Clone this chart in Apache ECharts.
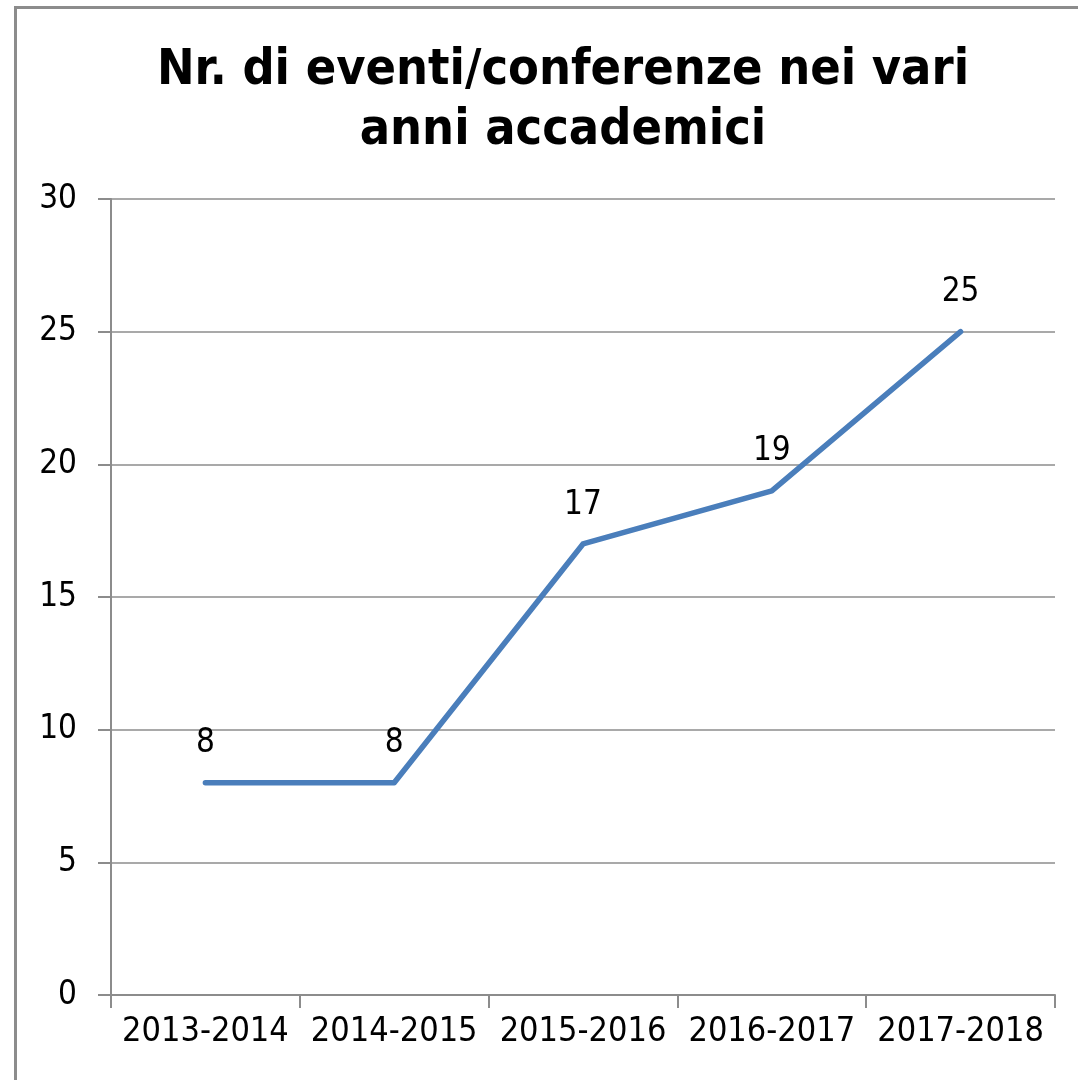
<!DOCTYPE html>
<html>
<head>
<meta charset="utf-8">
<script src="https://cdn.jsdelivr.net/npm/echarts@6/dist/echarts.min.js"></script>
<style>
  html, body { margin: 0; padding: 0; background: #fff; }
  #frame {
    position: absolute; left: 14px; top: 6px;
    width: 1070px; height: 1080px;
    border-left: 3px solid #8c8c8c; border-top: 3px solid #8c8c8c;
  }
  #mChart { position: absolute; left: 0; top: 0; width: 1078px; height: 1080px; }
</style>
</head>
<body>
<div id="frame"></div>
<div id="mChart"></div>
<script>
  // dati del grafico
  var anni = ['2013-2014', '2014-2015', '2015-2016', '2016-2017', '2017-2018'];
  var eventi = [8, 8, 17, 19, 25];
  var titolo = 'Nr. di eventi/conferenze nei vari\nanni accademici';

  var font = 'DejaVu Sans Condensed, Tahoma, sans-serif';
  var myChart = echarts.init(document.getElementById('mChart'));
  myChart.setOption({
    animation: false,
    title: {
      text: titolo,
      left: 558,
      textAlign: 'center',
      top: 36,
      textStyle: {
        fontFamily: font,
        fontWeight: 'bold',
        fontSize: 50,
        lineHeight: 60,
        color: '#000'
      }
    },
    grid: { left: 111, right: 23, top: 199, bottom: 85 },
    xAxis: {
      type: 'category',
      data: anni,
      boundaryGap: true,
      axisLine: { lineStyle: { color: '#8c8c8c', width: 2 } },
      axisTick: { show: true, length: 13, lineStyle: { color: '#8c8c8c', width: 2 } },
      axisLabel: { fontFamily: font, fontSize: 34, color: '#000', margin: 20, interval: 0 }
    },
    yAxis: {
      type: 'value',
      min: 0, max: 30, interval: 5,
      axisLine: { show: true, lineStyle: { color: '#8c8c8c', width: 2 } },
      axisTick: { show: true, length: 13, lineStyle: { color: '#8c8c8c', width: 2 } },
      splitLine: { lineStyle: { color: '#8c8c8c', width: 1.5 } },
      axisLabel: { fontFamily: font, fontSize: 33, color: '#000', margin: 34 }
    },
    series: [{
      type: 'line',
      data: eventi,
      showSymbol: true,
      symbol: 'circle',
      symbolSize: 1,
      itemStyle: { color: '#4a7ebb' },
      lineStyle: { color: '#4a7ebb', width: 5.5, cap: 'round', join: 'round' },
      label: {
        show: true,
        position: 'top',
        distance: 22,
        fontFamily: font,
        fontSize: 33,
        color: '#000'
      }
    }]
  });
</script>
</body>
</html>
